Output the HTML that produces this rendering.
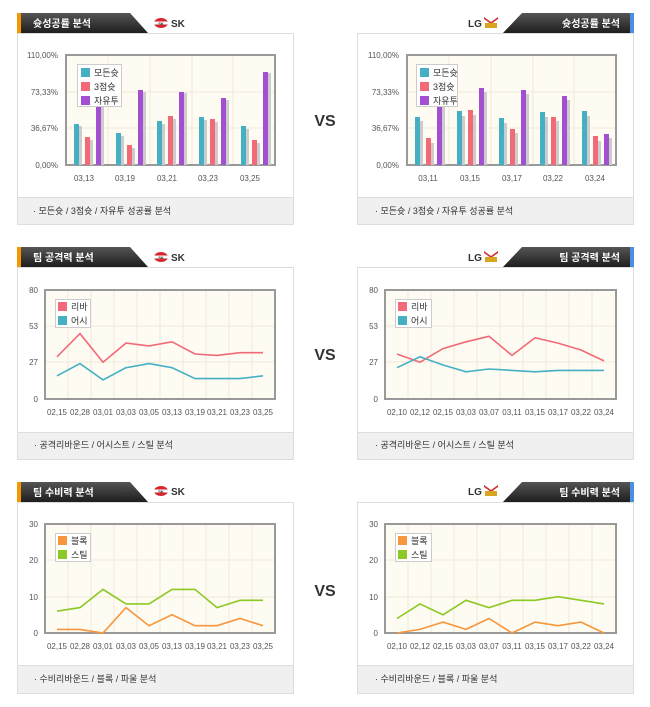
<!DOCTYPE html>
<html><head><meta charset="utf-8"><style>
body{margin:0;background:#fff;width:650px;height:707px;overflow:hidden}
svg{display:block;font-family:"Liberation Sans","Noto Sans CJK KR",sans-serif}
</style></head><body>
<svg width="650" height="707" viewBox="0 0 650 707">
<defs>
<linearGradient id="hd" x1="0" y1="0" x2="0" y2="1"><stop offset="0" stop-color="#555"/><stop offset="1" stop-color="#1e1e1e"/></linearGradient>
<g id="sk"><ellipse cx="0" cy="0" rx="7" ry="5" fill="#d8262e"/><rect x="-7" y="-1.5" width="14" height="3" fill="#fff"/><text x="0" y="2" font-size="4" text-anchor="middle" fill="#333" font-weight="bold">SK</text></g>
<g id="lg"><path d="M-7,-5 L0,0 L7,-5 L7,-3 L0,2 L-7,-3Z" fill="#c33"/><rect x="-6" y="1" width="12" height="5" fill="#d9a520"/></g>
</defs>

<!-- ===== Panels ===== -->
<g fill="#fff" stroke="#ddd">
<rect x="17.5" y="33.5" width="276" height="191"/><rect x="357.5" y="33.5" width="276" height="191"/>
<rect x="17.5" y="267.5" width="276" height="192"/><rect x="357.5" y="267.5" width="276" height="192"/>
<rect x="17.5" y="502.5" width="276" height="191"/><rect x="357.5" y="502.5" width="276" height="191"/>
</g>
<g fill="#f0f0f0" stroke="#ddd">
<rect x="17.5" y="197.5" width="276" height="27"/><rect x="357.5" y="197.5" width="276" height="27"/>
<rect x="17.5" y="432.5" width="276" height="27"/><rect x="357.5" y="432.5" width="276" height="27"/>
<rect x="17.5" y="665.5" width="276" height="28"/><rect x="357.5" y="665.5" width="276" height="28"/>
</g>
<g font-size="9" fill="#333">
<text x="33" y="214">·  모든슛 / 3점슛 / 자유투 성공률 분석</text>
<text x="375" y="214">·  모든슛 / 3점슛 / 자유투 성공률 분석</text>
<text x="34" y="448">· 공격리바운드 / 어시스트 / 스틸 분석</text>
<text x="375" y="448">·  공격리바운드 / 어시스트 / 스틸 분석</text>
<text x="34" y="682">· 수비리바운드 / 블록 / 파울 분석</text>
<text x="375" y="682">·  수비리바운드 / 블록 / 파울 분석</text>
</g>

<!-- headers -->
<g>
<path d="M17,13 H130 L148,33 H17Z" fill="url(#hd)"/><rect x="17" y="13" width="4" height="20" fill="#f39800"/>
<path d="M17,247 H130 L148,267 H17Z" fill="url(#hd)"/><rect x="17" y="247" width="4" height="20" fill="#f39800"/>
<path d="M17,482 H130 L148,502 H17Z" fill="url(#hd)"/><rect x="17" y="482" width="4" height="20" fill="#f39800"/>
<path d="M522,13 H634 V33 H503Z" fill="url(#hd)"/><rect x="630" y="13" width="4" height="20" fill="#4a8fe0"/>
<path d="M522,247 H634 V267 H503Z" fill="url(#hd)"/><rect x="630" y="247" width="4" height="20" fill="#4a8fe0"/>
<path d="M522,482 H634 V502 H503Z" fill="url(#hd)"/><rect x="630" y="482" width="4" height="20" fill="#4a8fe0"/>
</g>
<g font-size="10" font-weight="bold" fill="#fff">
<text x="33" y="27">슛성공률 분석</text><text x="33" y="261">팀 공격력 분석</text><text x="33" y="496">팀 수비력 분석</text>
<text x="620" y="27" text-anchor="end">슛성공률 분석</text><text x="620" y="261" text-anchor="end">팀 공격력 분석</text><text x="620" y="496" text-anchor="end">팀 수비력 분석</text>
</g>
<g font-size="10" font-weight="bold" fill="#333">
<use href="#sk" x="161" y="23"/><text x="171" y="27">SK</text>
<use href="#sk" x="161" y="257"/><text x="171" y="261">SK</text>
<use href="#sk" x="161" y="491"/><text x="171" y="495">SK</text>
<text x="468" y="27">LG</text><use href="#lg" x="491" y="22"/>
<text x="468" y="261">LG</text><use href="#lg" x="491" y="256"/>
<text x="468" y="495">LG</text><use href="#lg" x="491" y="490"/>
</g>
<g font-size="16" font-weight="bold" fill="#333" text-anchor="middle">
<text x="325" y="126">VS</text><text x="325" y="360">VS</text><text x="325" y="596">VS</text>
</g>

<!-- plot backgrounds -->
<g fill="#fdfbf2" stroke="#999" stroke-width="2">
<rect x="66" y="55" width="209" height="110"/><rect x="407" y="55" width="209" height="110"/>
<rect x="45" y="290" width="230" height="109"/><rect x="385" y="290" width="231" height="109"/>
<rect x="45" y="524" width="230" height="109"/><rect x="385" y="524" width="231" height="109"/>
</g>
<g stroke="#eee8d8" stroke-width="1">
<path d="M67,92H274M67,128H274M108,56V164M150,56V164M192,56V164M233,56V164"/>
<path d="M408,92H615M408,128H615M449,56V164M491,56V164M533,56V164M574,56V164"/>
<path d="M46,326H274M46,362H274M68,291V398M91,291V398M114,291V398M137,291V398M160,291V398M183,291V398M206,291V398M229,291V398M252,291V398"/>
<path d="M386,326H615M386,362H615M408,291V398M431,291V398M454,291V398M477,291V398M500,291V398M523,291V398M546,291V398M569,291V398M592,291V398"/>
<path d="M46,560H274M46,597H274M68,525V632M91,525V632M114,525V632M137,525V632M160,525V632M183,525V632M206,525V632M229,525V632M252,525V632"/>
<path d="M386,560H615M386,597H615M408,525V632M431,525V632M454,525V632M477,525V632M500,525V632M523,525V632M546,525V632M569,525V632M592,525V632"/>
</g>

<!-- axis labels -->
<g font-size="8" fill="#555" text-anchor="end">
<text x="58" y="58">110,00%</text><text x="58" y="95">73,33%</text><text x="58" y="131">36,67%</text><text x="58" y="168">0,00%</text>
<text x="399" y="58">110,00%</text><text x="399" y="95">73,33%</text><text x="399" y="131">36,67%</text><text x="399" y="168">0,00%</text>
<text x="38" y="293">80</text><text x="38" y="329">53</text><text x="38" y="365">27</text><text x="38" y="402">0</text>
<text x="378" y="293">80</text><text x="378" y="329">53</text><text x="378" y="365">27</text><text x="378" y="402">0</text>
<text x="38" y="527">30</text><text x="38" y="563">20</text><text x="38" y="600">10</text><text x="38" y="636">0</text>
<text x="378" y="527">30</text><text x="378" y="563">20</text><text x="378" y="600">10</text><text x="378" y="636">0</text>
</g>
<g font-size="8" fill="#555" text-anchor="middle">
<text x="84" y="181">03,13</text><text x="125" y="181">03,19</text><text x="167" y="181">03,21</text><text x="208" y="181">03,23</text><text x="250" y="181">03,25</text>
<text x="428" y="181">03,11</text><text x="470" y="181">03,15</text><text x="512" y="181">03,17</text><text x="553" y="181">03,22</text><text x="595" y="181">03,24</text>
<g id="xl1"><text x="57" y="415">02,15</text><text x="80" y="415">02,28</text><text x="103" y="415">03,01</text><text x="126" y="415">03,03</text><text x="149" y="415">03,05</text><text x="172" y="415">03,13</text><text x="195" y="415">03,19</text><text x="217" y="415">03,21</text><text x="240" y="415">03,23</text><text x="263" y="415">03,25</text></g>
<g id="xl2"><text x="397" y="415">02,10</text><text x="420" y="415">02,12</text><text x="443" y="415">02,15</text><text x="466" y="415">03,03</text><text x="489" y="415">03,07</text><text x="512" y="415">03,11</text><text x="535" y="415">03,15</text><text x="558" y="415">03,17</text><text x="581" y="415">03,22</text><text x="604" y="415">03,24</text></g>
<use href="#xl1" y="234"/><use href="#xl2" y="234"/>
</g>

<!-- bars left -->
<g>
<g fill="#ccc"><rect x="77" y="126" width="5" height="39"/><rect x="88" y="140" width="5" height="25"/><rect x="99" y="100" width="5" height="65"/>
<rect x="119" y="136" width="5" height="29"/><rect x="130" y="148" width="5" height="17"/><rect x="141" y="92" width="5" height="73"/>
<rect x="160" y="124" width="5" height="41"/><rect x="171" y="119" width="5" height="46"/><rect x="182" y="93" width="5" height="72"/>
<rect x="202" y="120" width="5" height="45"/><rect x="213" y="122" width="5" height="43"/><rect x="224" y="100" width="5" height="65"/>
<rect x="244" y="129" width="5" height="36"/><rect x="255" y="143" width="5" height="22"/><rect x="266" y="73" width="5" height="92"/></g>
<g fill="#45b0c4"><rect x="74" y="124" width="5" height="41"/><rect x="116" y="133" width="5" height="32"/><rect x="157" y="121" width="5" height="44"/><rect x="199" y="117" width="5" height="48"/><rect x="241" y="126" width="5" height="39"/></g>
<g fill="#f26a78"><rect x="85" y="137" width="5" height="28"/><rect x="127" y="145" width="5" height="20"/><rect x="168" y="116" width="5" height="49"/><rect x="210" y="119" width="5" height="46"/><rect x="252" y="140" width="5" height="25"/></g>
<g fill="#a24fd1"><rect x="96" y="96" width="5" height="69"/><rect x="138" y="90" width="5" height="75"/><rect x="179" y="92" width="5" height="73"/><rect x="221" y="98" width="5" height="67"/><rect x="263" y="72" width="5" height="93"/></g>
</g>
<!-- bars right -->
<g>
<g fill="#ccc"><rect x="418" y="121" width="5" height="44"/><rect x="429" y="143" width="5" height="22"/><rect x="440" y="104" width="5" height="61"/>
<rect x="460" y="116" width="5" height="49"/><rect x="471" y="115" width="5" height="50"/><rect x="482" y="92" width="5" height="73"/>
<rect x="502" y="123" width="5" height="42"/><rect x="513" y="133" width="5" height="32"/><rect x="524" y="94" width="5" height="71"/>
<rect x="543" y="117" width="5" height="48"/><rect x="554" y="121" width="5" height="44"/><rect x="565" y="100" width="5" height="65"/>
<rect x="585" y="116" width="5" height="49"/><rect x="596" y="141" width="5" height="24"/><rect x="607" y="138" width="5" height="27"/></g>
<g fill="#45b0c4"><rect x="415" y="117" width="5" height="48"/><rect x="457" y="111" width="5" height="54"/><rect x="499" y="118" width="5" height="47"/><rect x="540" y="112" width="5" height="53"/><rect x="582" y="111" width="5" height="54"/></g>
<g fill="#f26a78"><rect x="426" y="138" width="5" height="27"/><rect x="468" y="110" width="5" height="55"/><rect x="510" y="129" width="5" height="36"/><rect x="551" y="117" width="5" height="48"/><rect x="593" y="136" width="5" height="29"/></g>
<g fill="#a24fd1"><rect x="437" y="100" width="5" height="65"/><rect x="479" y="88" width="5" height="77"/><rect x="521" y="90" width="5" height="75"/><rect x="562" y="96" width="5" height="69"/><rect x="604" y="134" width="5" height="31"/></g>
</g>

<!-- lines -->
<g fill="none" stroke-width="1.6">
<polyline stroke="#f26a78" points="57,356.8 80,333.6 103,362.2 126,343.1 149,345.9 172,341.8 195,354 217,355.4 240,352.7 263,352.7"/>
<polyline stroke="#45b0c4" points="57,375.8 80,363.6 103,379.9 126,367.7 149,363.6 172,367.7 195,378.6 217,378.6 240,378.6 263,375.8"/>
<polyline stroke="#f26a78" points="397,354 420,362.2 443,348.6 466,341.8 489,336.3 512,355.4 535,337.7 558,343.1 581,350 604,360.9"/>
<polyline stroke="#45b0c4" points="397,367.7 420,356.8 443,365 466,371.8 489,369 512,370.4 535,371.8 558,370.4 581,370.4 604,370.4"/>
<polyline stroke="#f7963c" points="57,629.4 80,629.4 103,633 126,607.6 149,625.7 172,614.8 195,625.7 217,625.7 240,618.5 263,625.7"/>
<polyline stroke="#8cc924" points="57,611.2 80,607.6 103,589.4 126,603.9 149,603.9 172,589.4 195,589.4 217,607.6 240,600.3 263,600.3"/>
<polyline stroke="#f7963c" points="397,633 420,629.4 443,622.1 466,629.4 489,618.5 512,633 535,622.1 558,625.7 581,622.1 604,633"/>
<polyline stroke="#8cc924" points="397,618.5 420,603.9 443,614.8 466,600.3 489,607.6 512,600.3 535,600.3 558,596.7 581,600.3 604,603.9"/>
</g>

<!-- legends -->
<g font-size="9" fill="#333">
<rect x="77.5" y="64.5" width="44" height="42" fill="#fff" stroke="#ccc"/>
<rect x="81" y="68" width="9" height="9" fill="#45b0c4"/><text x="94" y="76">모든슛</text>
<rect x="81" y="82" width="9" height="9" fill="#f26a78"/><text x="94" y="90">3점슛</text>
<rect x="81" y="96" width="9" height="9" fill="#a24fd1"/><text x="94" y="104">자유투</text>
<rect x="416.5" y="64.5" width="41" height="42" fill="#fff" stroke="#ccc"/>
<rect x="420" y="68" width="9" height="9" fill="#45b0c4"/><text x="433" y="76">모든슛</text>
<rect x="420" y="82" width="9" height="9" fill="#f26a78"/><text x="433" y="90">3점슛</text>
<rect x="420" y="96" width="9" height="9" fill="#a24fd1"/><text x="433" y="104">자유투</text>

<rect x="55.5" y="299.5" width="35" height="28" fill="#fff" stroke="#ccc"/>
<rect x="58" y="302" width="9" height="9" fill="#f26a78"/><text x="71" y="310">리바</text>
<rect x="58" y="316" width="9" height="9" fill="#45b0c4"/><text x="71" y="324">어시</text>
<rect x="395.5" y="299.5" width="36" height="28" fill="#fff" stroke="#ccc"/>
<rect x="398" y="302" width="9" height="9" fill="#f26a78"/><text x="411" y="310">리바</text>
<rect x="398" y="316" width="9" height="9" fill="#45b0c4"/><text x="411" y="324">어시</text>

<rect x="55.5" y="533.5" width="35" height="28" fill="#fff" stroke="#ccc"/>
<rect x="58" y="536" width="9" height="9" fill="#f7963c"/><text x="71" y="544">블록</text>
<rect x="58" y="550" width="9" height="9" fill="#8cc924"/><text x="71" y="558">스틸</text>
<rect x="395.5" y="533.5" width="36" height="28" fill="#fff" stroke="#ccc"/>
<rect x="398" y="536" width="9" height="9" fill="#f7963c"/><text x="411" y="544">블록</text>
<rect x="398" y="550" width="9" height="9" fill="#8cc924"/><text x="411" y="558">스틸</text>
</g>
</svg>
</body></html>
